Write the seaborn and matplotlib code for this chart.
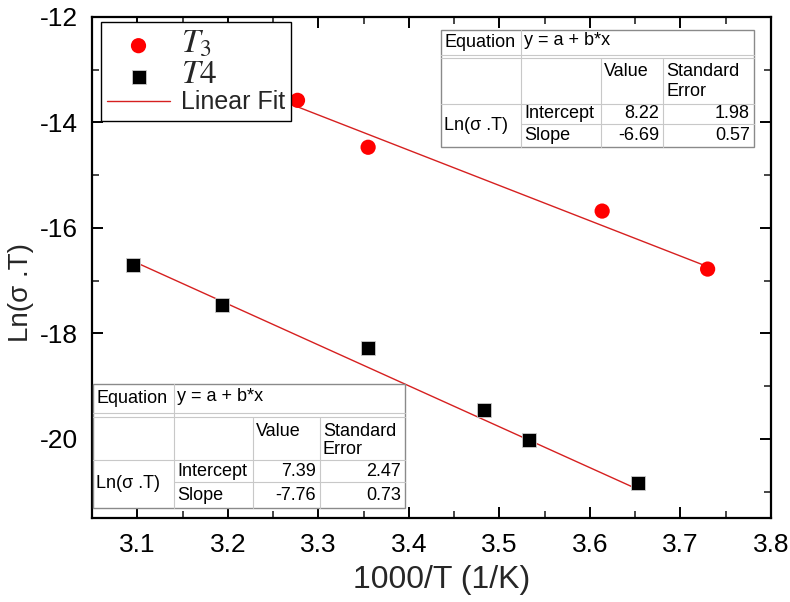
import matplotlib
matplotlib.use("Agg")
import matplotlib.pyplot as plt
from matplotlib.lines import Line2D
from matplotlib.patches import Rectangle
from matplotlib.ticker import MultipleLocator
import numpy as np
import pandas as pd
import seaborn as sns

# ---------------- data ----------------
t3_x = [3.277, 3.355, 3.6135, 3.730]
t3_y = [-13.58, -14.47, -15.68, -16.78]
t4_x = [3.095, 3.194, 3.355, 3.483, 3.533, 3.653]
t4_y = [-16.71, -17.46, -18.27, -19.45, -20.02, -20.84]

fit_names = ["T3", "T4"]
fit_intercept = [8.22, 7.39]
fit_intercept_err = [1.98, 2.47]
fit_slope = [-6.69, -7.76]
fit_slope_err = [0.57, 0.73]

x_ticks = [3.1, 3.2, 3.3, 3.4, 3.5, 3.6, 3.7, 3.8]
y_ticks = [-12, -14, -16, -18, -20]

# ---------------- style ----------------
sns.set_theme(style="ticks")
plt.rcParams["font.family"] = ["Liberation Sans", "DejaVu Sans"]
plt.rcParams["mathtext.fontset"] = "stix"

W, H = 790, 602
fig = plt.figure(figsize=(W / 100, H / 100), dpi=100)
ax = fig.add_axes([92 / W, 1 - 518 / H, (771 - 92) / W, (518 - 17) / H])

df3 = pd.DataFrame({"x": t3_x, "y": t3_y})
df4 = pd.DataFrame({"x": t4_x, "y": t4_y})

# fit lines from the fit parameters over each data range
fit_frames = []
for xs, a, b in [(t3_x, fit_intercept[0], fit_slope[0]), (t4_x, fit_intercept[1], fit_slope[1])]:
    xx = np.array([min(xs), max(xs)])
    fit_frames.append(pd.DataFrame({"x": xx, "y": a + b * xx}))

sns.lineplot(data=fit_frames[0], x="x", y="y", ax=ax, color="#d62020", lw=1.0, label="Linear Fit")
sns.lineplot(data=fit_frames[1], x="x", y="y", ax=ax, color="#d62020", lw=1.0, legend=False)
sns.scatterplot(data=df3, x="x", y="y", ax=ax, color="#ff0000", marker="o", s=120,
                edgecolor="none", label=r"$T_3$", zorder=3)
sns.scatterplot(data=df4, x="x", y="y", ax=ax, color="#000000", marker="s", s=90,
                edgecolor="#cccccc", linewidth=0.6, label=r"$\mathit{T4}$", zorder=3)

ax.set_xlim(3.05, 3.8)
ax.set_ylim(-21.5, -12)
ax.set_xticks(x_ticks)
ax.set_yticks(y_ticks)
ax.set_xticklabels([f"{v:.1f}" for v in x_ticks])
ax.set_yticklabels([f"{v}" for v in y_ticks])
ax.xaxis.set_minor_locator(MultipleLocator(0.05))
ax.yaxis.set_minor_locator(MultipleLocator(1))
ax.tick_params(which="major", direction="in", length=8, width=1.4, top=True, right=True,
               labelsize=19, colors="black")
ax.tick_params(axis="x", which="major", pad=11)
ax.tick_params(axis="y", which="major", pad=10)
ax.tick_params(which="minor", direction="in", length=5, width=1.2, top=True, right=True)
for s in ax.spines.values():
    s.set_visible(True)
    s.set_linewidth(1.6)
    s.set_color("black")

ax.set_xlabel("1000/T (1/K)", fontsize=23)
ax.xaxis.set_label_coords(0.515, -0.094)
ax.set_ylabel("Ln(σ .T)", fontsize=20)
ax.yaxis.set_label_coords(-0.086, 0.45)

# legend
handles, labels = ax.get_legend_handles_labels()
order = [labels.index(r"$T_3$"), labels.index(r"$\mathit{T4}$"), labels.index("Linear Fit")]
leg = ax.legend([handles[i] for i in order], [labels[i] for i in order],
                loc="upper left", bbox_to_anchor=((101 - 92) / 679, 1 - (22 - 17) / 501),
                fontsize=18, frameon=True, fancybox=False, edgecolor="black",
                framealpha=1, borderpad=0.25, handlelength=2.5, handletextpad=0.45,
                labelspacing=0.0, borderaxespad=0)
leg.get_frame().set_linewidth(1.0)
leg_texts = leg.get_texts()
leg_texts[0].set_fontsize(24)
leg_texts[1].set_fontsize(24)


# ---------------- fit result tables ----------------
def fx(px):
    return px / W


def fy(py):
    return 1 - py / H


def hline(x0, x1, y, color):
    fig.add_artist(Line2D([fx(x0), fx(x1)], [fy(y), fy(y)], color=color, lw=0.8, zorder=6))


def vline(x, y0, y1, color):
    fig.add_artist(Line2D([fx(x), fx(x)], [fy(y0), fy(y1)], color=color, lw=0.8, zorder=6))


def draw_table(cols, rows, k):
    x0, x1, x2, x3, x4 = cols
    y0, y1, y1b, y2, y3, y4 = rows
    inner = "#c8c8c8"
    outer = "#8a8a8a"
    fig.add_artist(Rectangle((fx(x0), fy(y4)), fx(x4) - fx(x0), fy(y0) - fy(y4),
                             facecolor="white", edgecolor=outer, lw=1.0, zorder=5))
    vline(x1, y0, y4, inner)
    vline(x2, y1b, y4, inner)
    vline(x3, y1b, y4, inner)
    hline(x0, x4, y1, inner)
    hline(x0, x4, y1b, inner)
    hline(x0, x4, y2, inner)
    hline(x1, x4, y3, inner)
    fs = 13
    kw = dict(fontsize=fs, color="black", zorder=7, transform=fig.transFigure)
    fig.text(fx(x0 + 3), fy((y0 + y1) / 2), "Equation", ha="left", va="center", **kw)
    fig.text(fx(x1 + 3), fy((y0 + y1) / 2 - 2), "y = a + b*x", ha="left", va="center", **kw)
    fig.text(fx(x2 + 3), fy(y1b + 14), "Value", ha="left", va="center", **kw)
    fig.text(fx(x3 + 3), fy(y1b + 14), "Standard", ha="left", va="center", **kw)
    fig.text(fx(x3 + 3), fy(y1b + 33), "Error", ha="left", va="center", **kw)
    fig.text(fx(x0 + 3), fy((y2 + y4) / 2), "Ln(σ .T)", ha="left", va="center", **kw)
    fig.text(fx(x1 + 3), fy((y2 + y3) / 2), "Intercept", ha="left", va="center", **kw)
    fig.text(fx(x1 + 3), fy((y3 + y4) / 2), "Slope", ha="left", va="center", **kw)
    fig.text(fx(x3 - 4), fy((y2 + y3) / 2), f"{fit_intercept[k]:.2f}", ha="right", va="center", **kw)
    fig.text(fx(x4 - 4), fy((y2 + y3) / 2), f"{fit_intercept_err[k]:.2f}", ha="right", va="center", **kw)
    fig.text(fx(x3 - 4), fy((y3 + y4) / 2), f"{fit_slope[k]:.2f}", ha="right", va="center", **kw)
    fig.text(fx(x4 - 4), fy((y3 + y4) / 2), f"{fit_slope_err[k]:.2f}", ha="right", va="center", **kw)


draw_table([441, 521, 601, 663, 754], [30, 55, 58, 104, 124, 147], 0)
draw_table([93, 174, 253, 320, 405], [384, 413, 417, 460, 482, 508], 1)

fig.savefig("out.png", dpi=100, facecolor="white")
